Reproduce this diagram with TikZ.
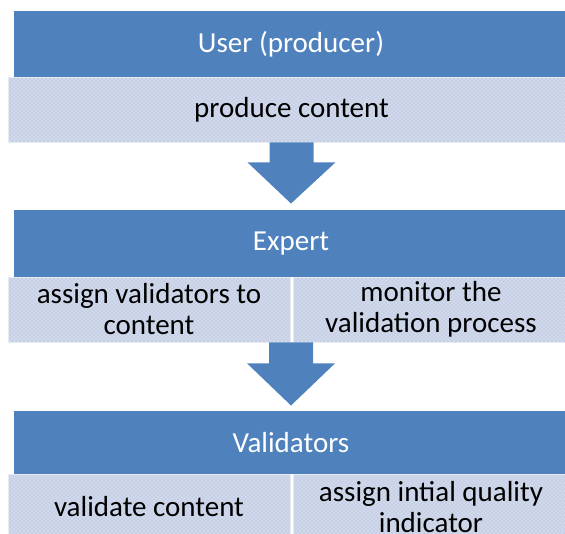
\documentclass[tikz,border=0pt]{standalone}
\usepackage{fontspec}
\setmainfont{Carlito}
\usetikzlibrary{calc,patterns}

\definecolor{headblue}{RGB}{79,129,189}
\definecolor{subfill}{RGB}{208,216,233}
\definecolor{subdots}{RGB}{166,190,226}

\tikzset{every picture/.style={line width=0.75pt},
  headbox/.style={rectangle, inner sep=0pt, fill=headblue, text=white,
    minimum width=415.5pt, font=\fontsize{21.75}{23.25}\selectfont},
  subbox/.style={rectangle, inner sep=0pt, preaction={fill=subfill},
    pattern=crosshatch dots, pattern color=subdots, draw=white!45!subfill, line width=0.5pt,
    minimum height=48.75pt, align=center, font=\fontsize{21.75}{23.25}\selectfont},
  blockarrow/.style={fill=headblue}}

\begin{document}
\begin{tikzpicture}[x=0.75pt,y=0.75pt,yscale=-1,xscale=1]
\useasboundingbox (0,0) rectangle (565,533);

%Shape: Rectangle [user header]
\node [headbox, minimum height=49.5pt] (user) at (291,44) {User (producer)};
%Shape: Rectangle [user task]
\node [subbox, minimum width=425.25pt] (produce) at (291.5,109.5) {produce content};

%Shape: Rectangle [expert header]
\node [headbox, minimum height=50.25pt] (expert) at (291,243.5) {Expert};
%Shape: Rectangle [expert tasks]
\node [subbox, minimum width=211.5pt] (assign) at (149,309.5) {assign validators to\\content};
\node [subbox, minimum width=207pt] (monitor) at (431,309.5) {monitor the\\validation process};

%Shape: Rectangle [validators header]
\node [headbox, minimum height=47.25pt] (validators) at (291,442.5) {Validators};
%Shape: Rectangle [validator tasks]
\node [subbox, minimum width=211.5pt, minimum height=49.5pt] (validate) at (149,507) {validate content};
\node [subbox, minimum width=207pt, minimum height=49.5pt] (quality) at (431,507) {assign intial quality\\indicator};

\coordinate (expertbot) at (expert.south |- assign.south);

%Shape: Down Arrow [user -> expert]
\fill [blockarrow] ($(produce.south)+(-22,0)$) -- ($(produce.south)+(-22,20)$) -- ($(produce.south)+(-44,20)$) -- ($(expert.north)+(0,-6)$) -- ($(produce.south)+(44,20)$) -- ($(produce.south)+(22,20)$) -- ($(produce.south)+(22,0)$) -- cycle ;
%Shape: Down Arrow [expert -> validators]
\fill [blockarrow] ($(expertbot)+(-22,0)$) -- ($(expertbot)+(-22,21)$) -- ($(expertbot)+(-44,21)$) -- ($(validators.north)+(0,-5)$) -- ($(expertbot)+(44,21)$) -- ($(expertbot)+(22,21)$) -- ($(expertbot)+(22,0)$) -- cycle ;

\end{tikzpicture}
\end{document}
